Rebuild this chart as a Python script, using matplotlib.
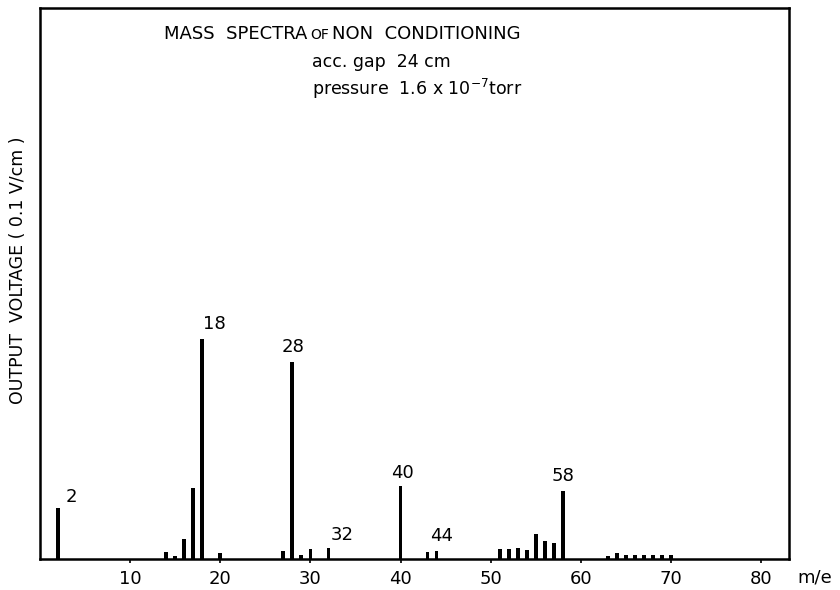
import matplotlib
matplotlib.use("Agg")
import matplotlib.pyplot as plt

# m/e values and peak heights (arbitrary units)
mass = [2, 14, 15, 16, 17, 18, 20, 27, 28, 29, 30, 32, 40, 43, 44,
        51, 52, 53, 54, 55, 56, 57, 58, 63, 64, 65, 66, 67, 68, 69, 70]
height = [51, 7, 3, 20, 71, 220, 6, 8, 197, 4, 10, 11, 73, 7, 8,
          10, 10, 11, 9, 25, 18, 16, 68, 3, 6, 4, 4, 4, 4, 4, 4]

peak_labels = ["2", "18", "28", "32", "40", "44", "58"]
peak_label_mass = [2, 18, 28, 32, 40, 44, 58]
xticks = [10, 20, 30, 40, 50, 60, 70, 80]

fig = plt.figure(figsize=(8.4, 5.9), dpi=100)
ax = fig.add_axes([40/840, 31/590, 749/840, 551/590])
ax.bar(mass, height, width=0.42, color="black", linewidth=0)
ax.set_xlim(0, 83.1)
ax.set_ylim(0, 551)
ax.set_yticks([])
ax.set_xticks(xticks)
ax.set_xticklabels([str(t) for t in xticks], fontsize=13)
ax.tick_params(axis="x", direction="out", length=3, width=1.2, pad=5)
for s in ax.spines.values():
    s.set_linewidth(1.8)

hmap = dict(zip(mass, height))
# (x offset in m/e units, y offset in height units)
offsets = {"2": (1.5, 2), "18": (1.3, 6), "28": (0.1, 6), "32": (1.5, 4),
           "40": (0.2, 4), "44": (0.6, 6), "58": (0.0, 6)}
for lab, m in zip(peak_labels, peak_label_mass):
    dx, dy = offsets[lab]
    ax.text(m + dx, hmap[m] + dy, lab, fontsize=13, ha="center", va="bottom")

# title pieces, "OF" in smaller letters as in the original lettering
ax.text(13.8, 520, "MASS  SPECTRA", fontsize=13, ha="left", va="baseline")
ax.text(30.0, 520, "OF", fontsize=10, ha="left", va="baseline")
ax.text(32.4, 520, "NON  CONDITIONING", fontsize=13, ha="left", va="baseline")
ax.text(30.2, 497, "acc. gap  24 cm", fontsize=12.5, ha="left", va="center")
ax.text(30.2, 470, r"pressure  1.6 x 10$^{-7}$torr", fontsize=12.5, ha="left", va="center")

ax.set_ylabel("OUTPUT  VOLTAGE ( 0.1 V/cm )", fontsize=12.5)
ax.yaxis.set_label_coords(-0.017, 0.524)
fig.text(815/840, 1 - 577/590, "m/e", fontsize=13, ha="center", va="center")

fig.savefig("out.png", dpi=100)
